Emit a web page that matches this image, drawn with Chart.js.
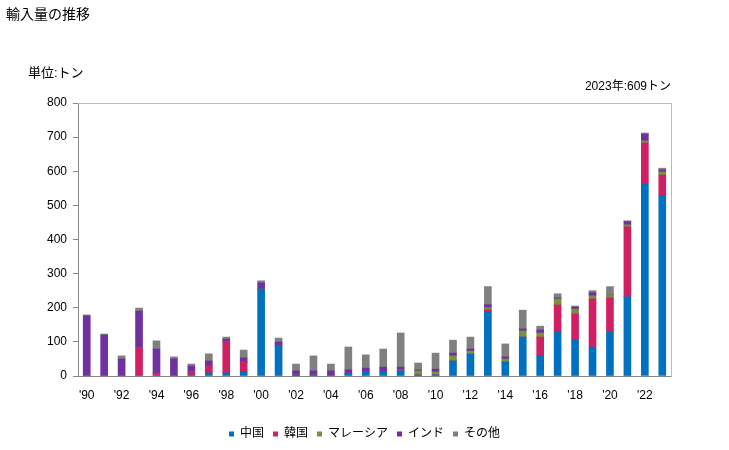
<!DOCTYPE html>
<html lang="ja">
<head>
<meta charset="UTF-8">
<title>輸入量の推移</title>
<script src="https://cdn.jsdelivr.net/npm/chart.js"></script>
<style>
    body { margin: 0; background: #fff; font-family: 'Liberation Sans', 'Noto Sans CJK JP', sans-serif; }
    #wrap { position: relative; width: 729px; height: 450px; }
    .txt { position: absolute; color: #000; white-space: nowrap; }
    #title { left: 6px; top: 3px; font-size: 14px; }
    #unit { left: 28px; top: 62px; font-size: 13px; }
    #note { right: 58px; top: 76px; font-size: 12px; }
</style>
</head>
<body>
<div id="wrap">
    <canvas id="myChart" width="729" height="450"></canvas>
    <div class="txt" id="title">輸入量の推移</div>
    <div class="txt" id="unit">単位:トン</div>
    <div class="txt" id="note">2023年:609トン</div>
</div>
<script>
// data (トン), 1990 - 2023
const years = ["'90","'91","'92","'93","'94","'95","'96","'97","'98","'99",
               "'00","'01","'02","'03","'04","'05","'06","'07","'08","'09",
               "'10","'11","'12","'13","'14","'15","'16","'17","'18","'19",
               "'20","'21","'22","'23"];
const china    = [0,0,0,0,0,0,3,9,9,12, 255,88,3,3,0,6,12,12,15,3, 3,44,64,188,41,114,59,129,106,85, 129,232,563,528];
const korea    = [0,0,0,83,7,0,9,20,91,29, 0,0,0,0,0,0,0,0,0,0, 0,0,0,6,0,0,55,79,76,141, 100,205,120,61];
const malaysia = [0,0,0,0,0,0,0,0,0,0, 0,0,0,0,0,0,0,0,3,12, 9,15,9,6,9,18,12,18,14,9, 9,6,6,9];
const india    = [176,120,50,107,72,50,17,15,8,12, 18,12,12,12,15,12,11,14,8,3, 8,8,6,9,6,6,9,3,6,9, 0,9,20,6];
const others   = [3,3,9,9,24,6,6,21,6,23, 6,11,20,44,20,67,39,53,100,20, 47,38,35,53,38,55,11,12,3,6, 24,3,3,5];

const seriesNames = ['中国', '韓国', 'マレーシア', 'インド', 'その他'];
const seriesColors = ['#0070c0', '#d01f62', '#76933c', '#7030a0', '#808080'];
const seriesData = [china, korea, malaysia, india, others];

// top border of plot area (tan line)
const frameTop = {
    id: 'frameTop',
    afterDraw(chart) {
        const a = chart.chartArea;
        const ctx = chart.ctx;
        ctx.save();
        ctx.strokeStyle = '#c4bc96';
        ctx.lineWidth = 1;
        ctx.beginPath();
        ctx.moveTo(a.left, a.top + 0.5);
        ctx.lineTo(a.right, a.top + 0.5);
        ctx.stroke();
        ctx.restore();
    }
};

const ctx = document.getElementById('myChart').getContext('2d');
new Chart(ctx, {
    type: 'bar',
    data: {
        labels: years,
        datasets: seriesData.map((d, i) => ({
            label: seriesNames[i],
            data: d,
            backgroundColor: seriesColors[i],
            borderWidth: 0,
            barThickness: 7
        }))
    },
    options: {
        responsive: false,
        animation: false,
        layout: { padding: { top: 103, right: 0, left: 0, bottom: 0 } },
        plugins: {
            title: { display: false },
            tooltip: { enabled: false },
            legend: {
                position: 'bottom',
                labels: {
                    boxWidth: 5,
                    boxHeight: 5,
                    padding: 9,
                    color: '#000',
                    font: { size: 12, family: "'Liberation Sans', 'Noto Sans CJK JP', sans-serif" }
                }
            }
        },
        scales: {
            x: {
                stacked: true,
                grid: { display: false },
                border: { display: true, color: '#888888' },
                ticks: {
                    autoSkip: false,
                    maxRotation: 0,
                    padding: 4,
                    color: '#000',
                    font: { size: 12, family: "'Liberation Sans', sans-serif" },
                    callback: (v, i) => i % 2 === 0 ? years[i] : ''
                },
                afterFit: s => { s.height = 43; }
            },
            y: {
                stacked: true,
                min: 0,
                max: 800,
                grid: { drawOnChartArea: false, drawTicks: true, tickLength: 5, color: '#888888' },
                border: { display: true, color: '#888888' },
                ticks: {
                    stepSize: 100,
                    padding: 6,
                    color: '#000',
                    font: { size: 12, family: "'Liberation Sans', sans-serif" }
                },
                afterFit: s => { s.width = 78; }
            },
            y2: {
                position: 'right',
                min: 0,
                max: 800,
                grid: { display: false },
                border: { display: true, color: '#c4bc96' },
                ticks: { display: false },
                afterFit: s => { s.width = 58; }
            }
        }
    },
    plugins: [frameTop]
});
</script>
</body>
</html>
